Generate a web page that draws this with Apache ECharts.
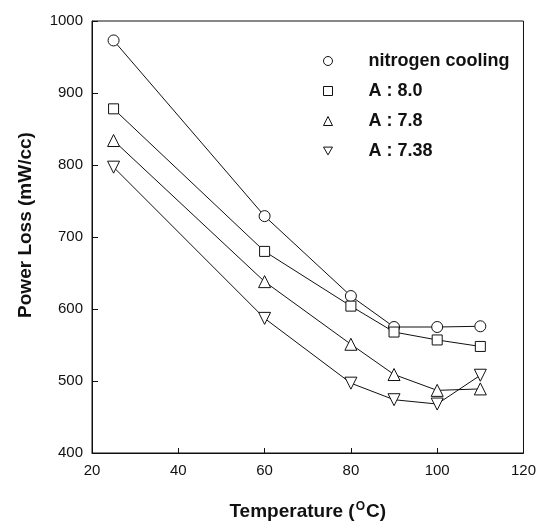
<!DOCTYPE html>
<html>
<head>
<meta charset="utf-8">
<script src="https://cdn.jsdelivr.net/npm/echarts@6/dist/echarts.min.js"></script>
<style>
html,body{margin:0;padding:0;background:#fff;}
#c{width:539px;height:527px;}
</style>
</head>
<body>
<div id="c"></div>
<script>
// Data
var temperatures = [25, 60, 80, 90, 100, 110];
var nitrogenCooling = [973, 729, 618, 575, 575, 576];
var a80 = [878, 680, 604, 568, 557, 548];
var a78 = [834, 638, 551, 509, 487, 489];
var a738 = [797, 587, 497, 474, 468, 508];
var seriesNames = ['nitrogen cooling', 'A : 8.0', 'A : 7.8', 'A : 7.38'];
var xTicks = [20, 40, 60, 80, 100, 120];
var yTicks = [400, 500, 600, 700, 800, 900, 1000];

var downTri = 'path://M0,0 L12,0 L6,10.4 Z';
var symbols = ['circle', 'rect', 'triangle', downTri];
var symbolSizes = [11, 10, 12, 12];
var values = [nitrogenCooling, a80, a78, a738];

function pairs(xs, ys) {
  return xs.map(function (x, i) { return [x, ys[i]]; });
}

var FONT = '"Liberation Sans", Arial, Helvetica, sans-serif';

var series = seriesNames.map(function (name, k) {
  return {
    name: name,
    type: 'line',
    data: pairs(temperatures, values[k]),
    symbol: symbols[k],
    symbolSize: symbolSizes[k],
    showAllSymbol: true,
    lineStyle: { color: '#111', width: 1 },
    itemStyle: { color: '#fff', borderColor: '#111', borderWidth: 1 },
    emphasis: { disabled: true },
    animation: false,
    z: 3
  };
});

var chart = echarts.init(document.getElementById('c'), null, { renderer: 'canvas' });
chart.setOption({
  backgroundColor: '#fff',
  animation: false,
  grid: {
    left: 92, right: 13, top: 21, bottom: 74,
    show: true, borderColor: '#111', borderWidth: 1, backgroundColor: 'transparent'
  },
  legend: {
    orient: 'vertical',
    left: 318,
    top: 47,
    itemWidth: 9,
    itemHeight: 9,
    itemGap: 12,
    data: seriesNames.map(function (n, k) {
      return { name: n, icon: k === 0 ? 'circle' : (k === 1 ? 'rect' : symbols[k]) };
    }),
    textStyle: {
      fontFamily: FONT, fontWeight: 'bold', fontSize: 18, color: '#111',
      lineHeight: 18, padding: [0, 0, 0, 31]
    },
    itemStyle: { color: '#fff', borderColor: '#111', borderWidth: 1 },
    selectedMode: false
  },
  xAxis: {
    type: 'value',
    min: 20, max: 120, interval: 20,
    name: 'Temperature ({s|O}C)',
    nameLocation: 'middle',
    nameGap: 48,
    nameTextStyle: {
      fontFamily: FONT, fontWeight: 'bold', fontSize: 19, color: '#111',
      rich: {
        s: { fontFamily: FONT, fontWeight: 'bold', fontSize: 12, color: '#111', padding: [0, 1, 9, 1] }
      }
    },
    axisLine: { show: true, lineStyle: { color: '#111', width: 1 } },
    axisTick: { show: true, inside: true, length: 5, lineStyle: { color: '#111' } },
    axisLabel: {
      fontFamily: FONT, fontSize: 15, color: '#111', margin: 10,
      formatter: function (v) { return xTicks.indexOf(v) >= 0 ? String(v) : ''; }
    },
    splitLine: { show: false }
  },
  yAxis: {
    type: 'value',
    min: 400, max: 1000, interval: 100,
    name: 'Power Loss (mW/cc)',
    nameLocation: 'middle',
    nameGap: 57,
    nameTextStyle: {
      fontFamily: FONT, fontWeight: 'bold', fontSize: 19, color: '#111',
      padding: [0, 0, 0, 24]
    },
    axisLine: { show: true, lineStyle: { color: '#111', width: 1 } },
    axisTick: { show: true, inside: true, length: 6, lineStyle: { color: '#111' } },
    axisLabel: {
      fontFamily: FONT, fontSize: 15, color: '#111', margin: 9,
      formatter: function (v) { return yTicks.indexOf(v) >= 0 ? String(v) : ''; }
    },
    splitLine: { show: false }
  },
  series: series
});
</script>
</body>
</html>
